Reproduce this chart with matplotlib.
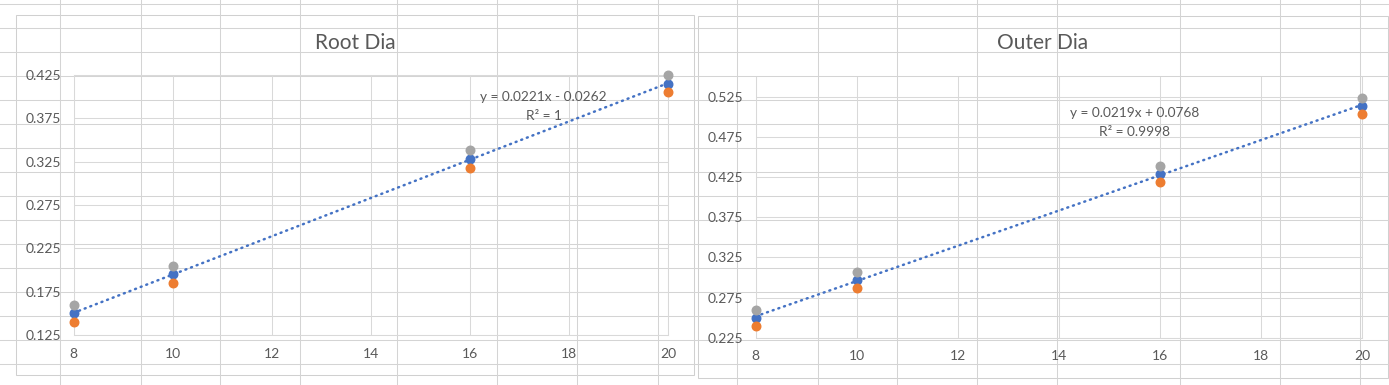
import numpy as np
import matplotlib
matplotlib.use('Agg')
import matplotlib.pyplot as plt
from matplotlib.patches import Rectangle

plt.rcParams['font.family'] = ['Lato', 'DejaVu Sans']

# data
x_vals = [8, 10, 16, 20]

root_mid = [0.150, 0.195, 0.328, 0.415]
root_low = [0.140, 0.185, 0.318, 0.405]
root_high = [0.160, 0.205, 0.338, 0.425]

outer_mid = [0.250, 0.297, 0.429, 0.514]
outer_low = [0.240, 0.287, 0.419, 0.504]
outer_high = [0.260, 0.307, 0.439, 0.524]

root_ticks = [0.125, 0.175, 0.225, 0.275, 0.325, 0.375, 0.425]
outer_ticks = [0.225, 0.275, 0.325, 0.375, 0.425, 0.475, 0.525]
x_ticks = [8, 10, 12, 14, 16, 18, 20]

root_eq = ['y = 0.0221x - 0.0262', 'R² = 1']
outer_eq = ['y = 0.0219x + 0.0768', 'R² = 0.9998']

BLUE = '#4472C4'
ORANGE = '#ED7D31'
GRAY = '#A5A5A5'
GRID = '#D9D9D9'
TXT = '#595959'

W, H = 1389, 385
fig = plt.figure(figsize = (W / 100, H / 100), dpi = 100)
fig.patch.set_facecolor('white')

# spreadsheet background
bg = fig.add_axes([0, 0, 1, 1], zorder = 0)
bg.set_xlim(0, W)
bg.set_ylim(H, 0)
bg.axis('off')
sheet_rows = [4, 28, 52, 76, 100, 124, 148, 172, 196, 220, 244, 268, 292, 316, 340, 364]
sheet_cols = [60, 141, 220, 300, 397, 497, 577, 658, 737, 818, 897, 977, 1057, 1180, 1280, 1360]
for r in sheet_rows:
  bg.plot([0, W], [r, r], color = '#D4D4D4', lw = 0.75)
for c in sheet_cols:
  bg.plot([c, c], [0, H], color = '#D4D4D4', lw = 0.75)

# chart panels
bg.add_patch(Rectangle((15.5, 14.5), 678.5, 360, facecolor = 'white', edgecolor = '#D0D0D0', lw = 0.75))
bg.add_patch(Rectangle((697.5, 15.5), 690.5, 362, facecolor = 'white', edgecolor = '#D0D0D0', lw = 0.75))
bg.text(355, 43, 'Root Dia', ha = 'center', va = 'center', fontsize = 15, color = TXT)
bg.text(1043, 43, 'Outer Dia', ha = 'center', va = 'center', fontsize = 15, color = TXT)


def panel(box, mid, low, high, yticks, ylim, eq, eq_pos, top_spine):
  l, t, r, b = box
  ax = fig.add_axes([l / W, 1 - b / H, (r - l) / W, (b - t) / H], zorder = 2)
  ax.set_facecolor('none')
  ax.set_xlim(8, 20)
  ax.set_ylim(*ylim)
  ax.set_xticks(x_ticks)
  ax.set_yticks(yticks)
  ax.set_yticklabels(['{:.3f}'.format(v) for v in yticks])
  ax.grid(True, color = GRID, lw = 0.75)
  ax.set_axisbelow(True)
  for name, sp in ax.spines.items():
    sp.set_color(GRID)
    sp.set_linewidth(0.75)
  ax.spines['top'].set_visible(top_spine)
  ax.tick_params(length = 0, pad = 9, labelsize = 10, colors = TXT)

  # linear trendline of the middle series
  k, c = np.polyfit(x_vals, mid, 1)
  xs = np.array([8, 20])
  ax.plot(xs, k * xs + c, color = BLUE, lw = 1.8, linestyle = (0, (0.4, 2.0)),
          dash_capstyle = 'round', zorder = 2)

  ax.scatter(x_vals, mid, s = 38, color = BLUE, zorder = 3, clip_on = False)
  ax.scatter(x_vals, low, s = 38, color = ORANGE, zorder = 3, clip_on = False)
  ax.scatter(x_vals, high, s = 38, color = GRAY, zorder = 3, clip_on = False)

  ax.text(eq_pos[0], eq_pos[1], eq[0], transform = ax.transAxes, ha = 'center',
          va = 'center', fontsize = 9.8, color = TXT)
  ax.text(eq_pos[0], eq_pos[2], eq[1], transform = ax.transAxes, ha = 'center',
          va = 'center', fontsize = 9.8, color = TXT)
  return ax


panel((73.5, 75, 668, 335), root_mid, root_low, root_high, root_ticks,
      (0.125, 0.425), root_eq, (0.791, 0.915, 0.842), True)
panel((755.7, 77, 1362, 337.7), outer_mid, outer_low, outer_high, outer_ticks,
      (0.225, 0.55), outer_eq, (0.625, 0.863, 0.790), False)

fig.savefig('out.png', dpi = 100)
